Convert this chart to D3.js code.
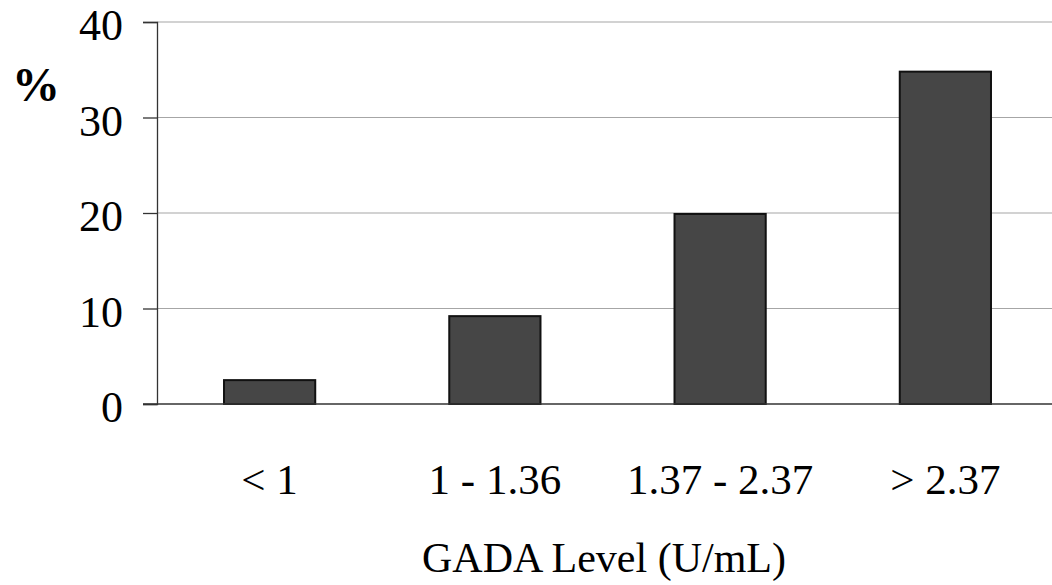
<!DOCTYPE html>
<html>
<head>
<meta charset="utf-8">
<script src="https://cdn.jsdelivr.net/npm/d3@7"></script>
<style>
    body { margin: 0; background: #fff; }
    text { font-family: "Liberation Serif", "Times New Roman", serif; fill: #000; }
</style>
</head>
<body>
<div id="chart"></div>
<script>
// GADA level bins and % values
var categories = ["< 1", "1 - 1.36", "1.37 - 2.37", "> 2.37"];
var values = [2.5, 9.2, 19.9, 34.8];
var yTicks = [0, 10, 20, 30, 40];

var width = 1052, height = 585;
var margin = {top: 22, right: -6, bottom: 181, left: 157};

var svg = d3.select("#chart").append("svg")
    .attr("width", width)
    .attr("height", height);

var xScale = d3.scaleBand()
    .domain(categories)
    .range([margin.left, width - margin.right]);

var yScale = d3.scaleLinear()
    .domain([0, 40])
    .range([height - margin.bottom, margin.top]);

// gridlines
svg.selectAll(".grid")
    .data(yTicks.filter(function (d) { return d > 0; }))
    .enter().append("line")
    .attr("class", "grid")
    .attr("x1", margin.left)
    .attr("x2", width)
    .attr("y1", function (d) { return yScale(d); })
    .attr("y2", function (d) { return yScale(d); })
    .attr("stroke", "#a6a6a6")
    .attr("stroke-width", 1.2);

// y axis
var yAxis = svg.append("g")
    .attr("transform", "translate(" + margin.left + ",0)")
    .call(d3.axisLeft(yScale).tickValues(yTicks).tickSize(14).tickPadding(20));
yAxis.select(".domain").attr("stroke", "#333").attr("stroke-width", 1.3);
yAxis.selectAll(".tick line").attr("stroke", "#333").attr("stroke-width", 1.3);
yAxis.selectAll(".tick text")
    .style("font-family", "'Liberation Serif', serif")
    .style("font-size", "44px")
    .attr("fill", "#000")
    .attr("dy", "0.4em");

// bars
var barW = xScale.bandwidth() * 0.405;
svg.selectAll(".bar")
    .data(values)
    .enter().append("rect")
    .attr("class", "bar")
    .attr("x", function (d, i) { return xScale(categories[i]) + (xScale.bandwidth() - barW) / 2; })
    .attr("y", function (d) { return yScale(d); })
    .attr("width", barW)
    .attr("height", function (d) { return yScale(0) - yScale(d); })
    .attr("fill", "#464646")
    .attr("stroke", "#111")
    .attr("stroke-width", 2);

// baseline
svg.append("line")
    .attr("x1", margin.left - 14)
    .attr("x2", width)
    .attr("y1", yScale(0))
    .attr("y2", yScale(0))
    .attr("stroke", "#333")
    .attr("stroke-width", 1.3);

// category labels
svg.selectAll(".cat")
    .data(categories)
    .enter().append("text")
    .attr("class", "cat")
    .attr("x", function (d) { return xScale(d) + xScale.bandwidth() / 2; })
    .attr("y", 494)
    .attr("text-anchor", "middle")
    .style("font-size", "43px")
    .text(function (d) { return d; });

// axis titles
svg.append("text")
    .attr("x", 604)
    .attr("y", 572)
    .attr("text-anchor", "middle")
    .style("font-size", "42px")
    .text("GADA Level (U/mL)");

svg.append("text")
    .attr("x", 36)
    .attr("y", 101)
    .attr("text-anchor", "middle")
    .style("font-size", "48px")
    .style("font-weight", "bold")
    .text("%");
</script>
</body>
</html>
